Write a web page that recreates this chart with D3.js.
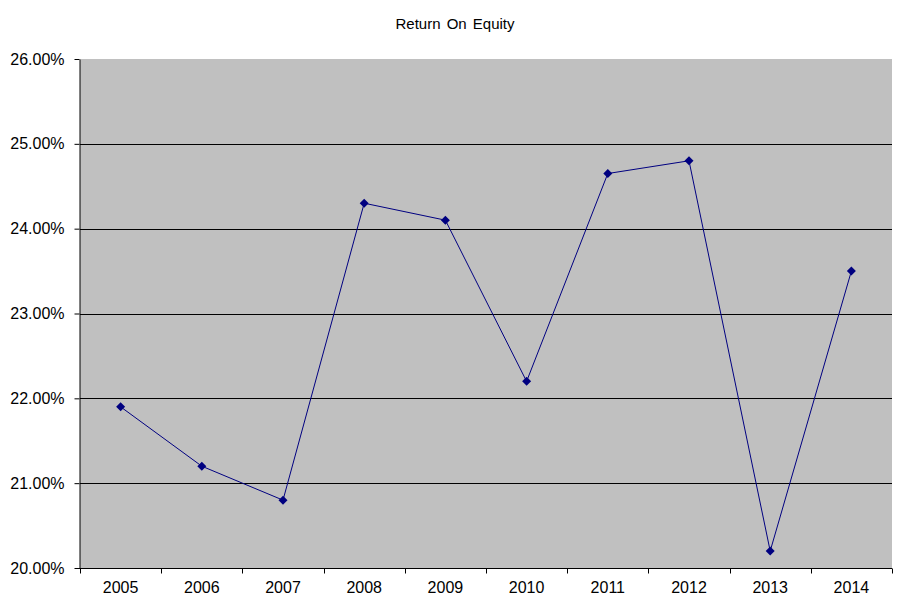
<!DOCTYPE html>
<html><head><meta charset="utf-8">
<script src="https://cdn.jsdelivr.net/npm/d3@7"></script>
<style>body{margin:0;background:#fff;} svg{display:block;font-family:"Liberation Sans",Arial,sans-serif;}</style>
</head><body>
<svg id="c" width="912" height="613"></svg>
<script>
const years = ["2005","2006","2007","2008","2009","2010","2011","2012","2013","2014"];
const roe = [21.9, 21.2, 20.8, 24.3, 24.1, 22.2, 24.65, 24.8, 20.2, 23.5];
const yTicks = [20,21,22,23,24,25,26];
const title = "Return On Equity";

const svg = d3.select("#c");
const L=80, R=892, T=59, B=568;
const x = d3.scaleBand().domain(years).range([L,R]);
const y = d3.scaleLinear().domain([20,26]).range([B,T]);

svg.append("rect").attr("x",L).attr("y",T).attr("width",R-L).attr("height",B-T).attr("fill","#c0c0c0");

svg.append("g").selectAll("line").data(yTicks.slice(1,-1)).join("line")
  .attr("x1",L).attr("x2",R).attr("y1",d=>Math.round(y(d))+0.5).attr("y2",d=>Math.round(y(d))+0.5)
  .attr("stroke","#000").attr("stroke-width",1);

// y axis
const ya = svg.append("g").attr("transform",`translate(${L-0.5},0)`)
  .call(d3.axisLeft(y).tickValues(yTicks).tickFormat(d=>d.toFixed(2)+"%").tickSize(5).tickPadding(10).tickSizeOuter(0));
ya.selectAll("text").attr("font-size",16).attr("fill","#000").attr("font-family","Liberation Sans, Arial, sans-serif");
ya.selectAll("line").attr("stroke","#000");
ya.select(".domain").attr("stroke","#000");

// x axis
const xa = svg.append("g").attr("transform",`translate(0,${B+0.5})`);
xa.append("line").attr("x1",L-5).attr("x2",R).attr("y1",0).attr("y2",0).attr("stroke","#000");
const bounds = years.map(d=>x(d)).concat([R]);
xa.selectAll("line.t").data(bounds).join("line").attr("class","t")
  .attr("x1",d=>Math.round(d)+0.5).attr("x2",d=>Math.round(d)+0.5).attr("y1",0).attr("y2",5).attr("stroke","#000");
xa.selectAll("text").data(years).join("text")
  .attr("x",d=>x(d)+x.bandwidth()/2).attr("y",24).attr("text-anchor","middle")
  .attr("font-size",16).attr("fill","#000").text(d=>d);

const line = d3.line().x((d,i)=>x(years[i])+x.bandwidth()/2).y(d=>y(d));
svg.append("path").datum(roe).attr("d",line).attr("fill","none").attr("stroke","#000080").attr("stroke-width",1);
svg.append("g").selectAll("path").data(roe).join("path")
  .attr("transform",(d,i)=>`translate(${x(years[i])+x.bandwidth()/2},${y(d)})`)
  .attr("d","M0,-4.5L4.5,0L0,4.5L-4.5,0Z").attr("fill","#000080");

svg.append("text").attr("x",455).attr("y",29).attr("text-anchor","middle").attr("font-size",15)
  .attr("word-spacing",2).attr("fill","#000").text(title);
</script>
</body></html>
